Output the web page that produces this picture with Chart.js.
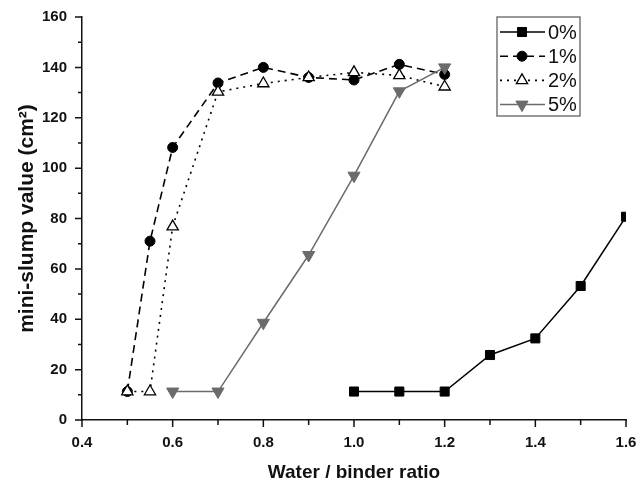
<!DOCTYPE html>
<html>
<head>
<meta charset="utf-8">
<script src="https://cdn.jsdelivr.net/npm/chart.js@4/dist/chart.umd.min.js"></script>
<style>
  html, body { margin: 0; padding: 0; background: #fff; }
  #wrap { width: 638px; height: 482px; }
</style>
</head>
<body>
<div id="wrap"><canvas id="slumpChart" width="638" height="482"></canvas></div>
<script>
// water / binder ratios and mini-slump values
const seriesLabels = ['0%', '1%', '2%', '5%'];
const ratio0 = [1.0, 1.1, 1.2, 1.3, 1.4, 1.5, 1.6];
const slump0 = [11.3, 11.3, 11.3, 25.8, 32.4, 53.2, 80.7];
const ratio1 = [0.5, 0.55, 0.6, 0.7, 0.8, 0.9, 1.0, 1.1, 1.2];
const slump1 = [11.3, 71, 108.2, 133.8, 140, 136, 135, 141.2, 137.2];
const ratio2 = [0.5, 0.55, 0.6, 0.7, 0.8, 0.9, 1.0, 1.1, 1.2];
const slump2 = [11.3, 11.3, 76.8, 130.3, 133.6, 136, 138, 136.8, 132.3];
const ratio5 = [0.6, 0.7, 0.8, 0.9, 1.0, 1.1, 1.2];
const slump5 = [11.3, 11.3, 38.6, 65.5, 97, 130.5, 140];
const xTicks = [0.4, 0.6, 0.8, 1.0, 1.2, 1.4, 1.6];
const yTicks = [0, 20, 40, 60, 80, 100, 120, 140, 160];

function pts(xs, ys) {
    return xs.map((x, i) => ({ x: x, y: ys[i] }));
}

const gray = '#6b6b6b';

// outward major / minor ticks like the original plot
const tickMarks = {
    id: 'tickMarks',
    afterDraw(chart) {
        const ctx = chart.ctx;
        const xs = chart.scales.x, ys = chart.scales.y;
        const area = chart.chartArea;
        ctx.save();
        ctx.strokeStyle = '#111';
        ctx.lineWidth = 1.5;
        ctx.beginPath();
        xs.ticks.forEach(t => {
            const px = xs.getPixelForValue(t.value);
            const major = xTicks.some(v => Math.abs(v - t.value) < 1e-6);
            ctx.moveTo(px, area.bottom);
            ctx.lineTo(px, area.bottom + (major ? 7 : 5));
        });
        ys.ticks.forEach(t => {
            const py = ys.getPixelForValue(t.value);
            const major = yTicks.some(v => Math.abs(v - t.value) < 1e-6);
            ctx.moveTo(area.left, py);
            ctx.lineTo(area.left - (major ? 7 : 4), py);
        });
        ctx.stroke();
        ctx.restore();
    }
};

// boxed legend with line + marker samples
const boxLegend = {
    id: 'boxLegend',
    afterDraw(chart) {
        const ctx = chart.ctx;
        const left = 497, top = 17, w = 83, h = 99;
        ctx.save();
        ctx.strokeStyle = '#777';
        ctx.lineWidth = 1.5;
        ctx.strokeRect(left, top, w, h);
        chart.data.datasets.forEach((ds, i) => {
            const y = 32 + i * 24.2;
            ctx.save();
            ctx.strokeStyle = ds.borderColor;
            ctx.lineWidth = ds.borderWidth;
            ctx.setLineDash(ds.borderDash || []);
            ctx.beginPath();
            ctx.moveTo(left + 3, y);
            ctx.lineTo(left + 48, y);
            ctx.stroke();
            ctx.restore();
            ctx.save();
            ctx.fillStyle = ds.pointBackgroundColor;
            ctx.strokeStyle = ds.pointBorderColor;
            ctx.lineWidth = ds.pointBorderWidth;
            Chart.helpers.drawPoint(ctx, {
                pointStyle: ds.pointStyle,
                rotation: ds.pointRotation || 0,
                radius: ds.pointRadius,
                borderWidth: ds.pointBorderWidth
            }, left + 25, y);
            ctx.restore();
            ctx.fillStyle = '#111';
            ctx.font = '20px "Liberation Sans", Arial, sans-serif';
            ctx.textBaseline = 'middle';
            ctx.fillText(ds.label, left + 51, y + 1);
        });
        ctx.restore();
    }
};

const ctx = document.getElementById('slumpChart').getContext('2d');
const slumpChart = new Chart(ctx, {
    type: 'scatter',
    data: {
        datasets: [{
            label: seriesLabels[0],
            data: pts(ratio0, slump0),
            showLine: true,
            borderColor: '#000',
            borderWidth: 1.5,
            pointStyle: 'rect',
            pointRadius: 6.4,
            pointBackgroundColor: '#000',
            pointBorderColor: '#000',
            pointBorderWidth: 1,
            order: 1
        }, {
            label: seriesLabels[1],
            data: pts(ratio1, slump1),
            showLine: true,
            borderColor: '#000',
            borderWidth: 1.6,
            borderDash: [8, 5],
            pointStyle: 'circle',
            pointRadius: 5,
            pointBackgroundColor: '#000',
            pointBorderColor: '#000',
            pointBorderWidth: 1,
            order: 3
        }, {
            label: seriesLabels[2],
            data: pts(ratio2, slump2),
            showLine: true,
            borderColor: '#000',
            borderWidth: 1.6,
            borderDash: [2, 5],
            pointStyle: 'triangle',
            pointRadius: 6.5,
            pointBackgroundColor: '#fff',
            pointBorderColor: '#000',
            pointBorderWidth: 1.3,
            order: 2
        }, {
            label: seriesLabels[3],
            data: pts(ratio5, slump5),
            showLine: true,
            borderColor: gray,
            borderWidth: 1.5,
            pointStyle: 'triangle',
            pointRotation: 180,
            pointRadius: 7,
            pointBackgroundColor: gray,
            pointBorderColor: gray,
            pointBorderWidth: 1,
            order: 0
        }]
    },
    options: {
        responsive: false,
        animation: false,
        layout: { padding: { top: 17, right: 12, left: 0, bottom: 0 } },
        plugins: {
            legend: { display: false },
            tooltip: { enabled: false }
        },
        scales: {
            x: {
                type: 'linear',
                min: 0.4,
                max: 1.6,
                grid: { display: false },
                border: { display: true, color: '#111', width: 1.5 },
                ticks: {
                    stepSize: 0.1,
                    autoSkip: false,
                    maxRotation: 0,
                    padding: 6,
                    color: '#111',
                    font: { family: '"Liberation Sans", Arial, sans-serif', size: 15, weight: 'bold' },
                    callback: v => xTicks.some(t => Math.abs(t - v) < 1e-6) ? v.toFixed(1) : ''
                },
                title: {
                    display: true,
                    text: 'Water / binder ratio',
                    color: '#111',
                    padding: { top: 0, bottom: 0 },
                    font: { family: '"Liberation Sans", Arial, sans-serif', size: 19, weight: 'bold', lineHeight: 1 }
                },
                afterFit: s => { s.height = 62; s.paddingLeft = 0; s.paddingRight = 0; }
            },
            y: {
                min: 0,
                max: 160,
                grid: { display: false },
                border: { display: true, color: '#111', width: 1.5 },
                ticks: {
                    stepSize: 10,
                    autoSkip: false,
                    padding: 7,
                    color: '#111',
                    font: { family: '"Liberation Sans", Arial, sans-serif', size: 15, weight: 'bold' },
                    callback: v => yTicks.includes(v) ? String(v) : ''
                },
                title: {
                    display: true,
                    text: 'mini-slump value (cm²)',
                    color: '#111',
                    padding: { top: 17, bottom: 0 },
                    font: { family: '"Liberation Sans", Arial, sans-serif', size: 21, weight: 'bold', lineHeight: 1 }
                },
                afterFit: s => { s.width = 82; s.paddingTop = 0; s.paddingBottom = 0; }
            }
        }
    },
    plugins: [tickMarks, boxLegend]
});
</script>
</body>
</html>
